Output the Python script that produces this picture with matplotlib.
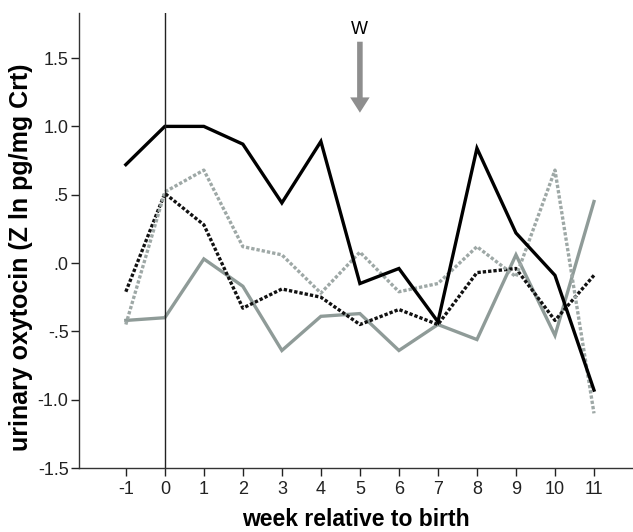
import matplotlib
matplotlib.use('Agg')
import matplotlib.pyplot as plt

# weeks relative to birth
weeks = [-1, 0, 1, 2, 3, 4, 5, 6, 7, 8, 9, 10, 11]

# four series (Z ln pg/mg Crt)
black_solid = [0.72, 1.00, 1.00, 0.87, 0.44, 0.89, -0.15, -0.04, -0.43, 0.84, 0.22, -0.09, -0.93]
gray_dotted = [-0.45, 0.52, 0.68, 0.12, 0.06, -0.22, 0.08, -0.21, -0.15, 0.12, -0.10, 0.68, -1.10]
black_dotted = [-0.21, 0.51, 0.28, -0.33, -0.19, -0.25, -0.45, -0.34, -0.45, -0.07, -0.04, -0.42, -0.09]
gray_solid = [-0.42, -0.40, 0.03, -0.17, -0.64, -0.39, -0.37, -0.64, -0.45, -0.56, 0.06, -0.53, 0.45]

yticks = [1.5, 1.0, 0.5, 0.0, -0.5, -1.0, -1.5]
ytick_labels = ["1.5", "1.0", ".5", ".0", "-.5", "-1.0", "-1.5"]

plt.rcParams['font.family'] = ['Liberation Sans', 'DejaVu Sans']

fig = plt.figure(figsize=(6.33, 5.32), dpi=100)
ax = fig.add_axes([0.1248, 0.1203, 0.8752, 0.8553])

ax.plot(weeks, gray_solid, color='#8f9b98', lw=2.4, solid_joinstyle='miter')
ax.plot(weeks, black_dotted, color='#111111', lw=2.4, linestyle=(0, (1, 0.6)))
ax.plot(weeks, gray_dotted, color='#9ea8a6', lw=2.4, linestyle=(0, (1, 0.6)))
ax.plot(weeks, black_solid, color='black', lw=2.4, solid_joinstyle='miter')

ax.axvline(0, color='#222222', lw=1.0)

# weaning arrow
ax.annotate('', xy=(5, 1.08), xytext=(5, 1.64),
            arrowprops=dict(arrowstyle='simple,head_width=1.4,head_length=1.1,tail_width=0.4',
                            color='#8e8e8e', lw=0))
ax.text(5, 1.65, 'W', ha='center', va='bottom', fontsize=13)

ax.set_xlim(-2.2, 12.0)
ax.set_ylim(-1.5, 1.83)
ax.set_xticks(weeks)
ax.set_xticklabels([str(w) for w in weeks], fontsize=13)
ax.set_yticks(yticks)
ax.set_yticklabels(ytick_labels, fontsize=13)
ax.tick_params(direction='out', length=6, width=1, colors='#222222')
ax.tick_params(axis='y', pad=1.5)

for s in ['top', 'right']:
    ax.spines[s].set_visible(False)
for s in ['left', 'bottom']:
    ax.spines[s].set_color('#333333')
    ax.spines[s].set_linewidth(1.0)

ax.set_xlabel('week relative to birth', fontsize=16.5, fontweight='bold')
ax.set_ylabel('urinary oxytocin (Z ln pg/mg Crt)', fontsize=18, fontweight='bold')
ax.xaxis.set_label_coords(0.5, -0.088)
ax.yaxis.set_label_coords(-0.083, 0.464)

fig.savefig('out.png', dpi=100)
